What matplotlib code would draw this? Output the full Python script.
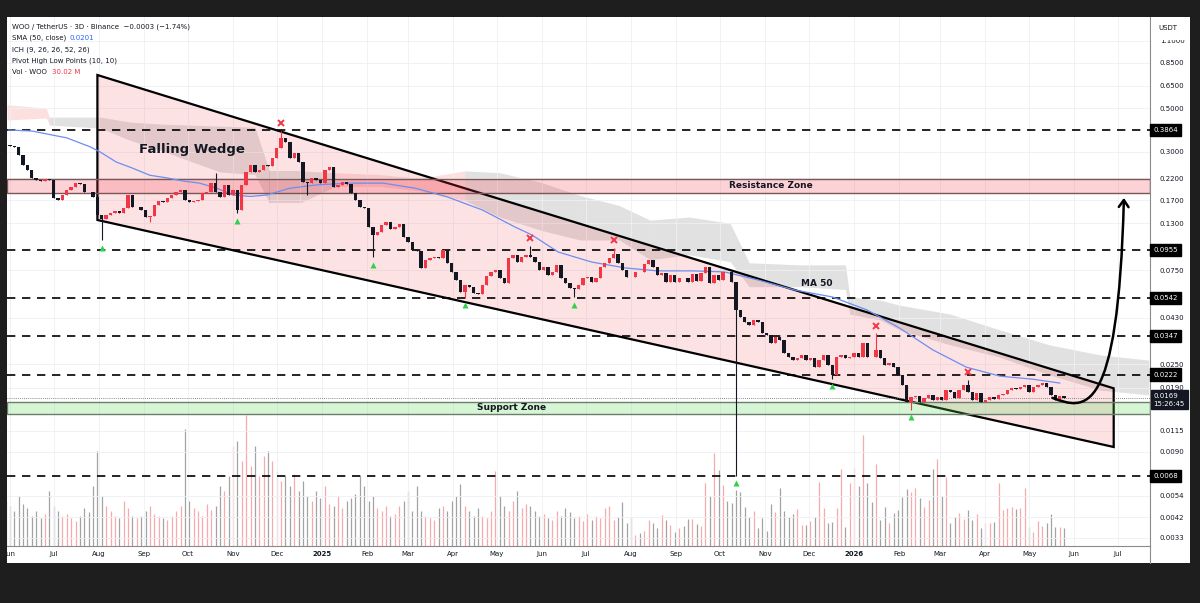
import matplotlib
matplotlib.use('Agg')
import matplotlib.pyplot as plt
import matplotlib.dates as mdates
import numpy as np
import pandas as pd
from matplotlib.patches import Polygon, Rectangle, FancyArrowPatch
from matplotlib.path import Path
from matplotlib.lines import Line2D
from matplotlib.transforms import offset_copy, blended_transform_factory

# ---- data (WOO/USDT, 3D candles) ----
first_open = 0.330
closes = [
    0.325, 0.321, 0.318, 0.289, 0.257, 0.243, 0.221, 0.216, 0.214, 0.218, 0.216, 0.175, 0.171, 0.181, 0.192, 0.199,
    0.208, 0.206, 0.188, 0.187, 0.177, 0.143,
    0.137, 0.143, 0.147, 0.150, 0.147, 0.156, 0.181, 0.157, 0.157, 0.152, 0.140, 0.142,
    0.161, 0.169, 0.167, 0.175, 0.181, 0.188, 0.192, 0.171, 0.167, 0.169, 0.171, 0.185, 0.187, 0.208, 0.188, 0.177,
    0.204, 0.181, 0.192, 0.152, 0.204, 0.237,
    0.257, 0.237, 0.243, 0.257, 0.255, 0.279, 0.314, 0.3525, 0.336, 0.279, 0.296, 0.266, 0.211, 0.209, 0.221, 0.216,
    0.208, 0.243, 0.251, 0.199, 0.204, 0.211, 0.206, 0.185, 0.171, 0.157, 0.155, 0.125, 0.1135, 0.1175, 0.1275, 0.132,
    0.122, 0.125, 0.129, 0.111, 0.1045, 0.0952, 0.0945, 0.0772,
    0.0847, 0.0867, 0.0877, 0.0872, 0.0952, 0.0818, 0.0737, 0.0671, 0.0583, 0.0633, 0.0618, 0.0576, 0.0572, 0.0633,
    0.0703, 0.0737, 0.0754, 0.0687, 0.0648, 0.0867, 0.0898, 0.0827, 0.0877, 0.0898, 0.0877, 0.0827, 0.0754, 0.0781,
    0.0711, 0.0737,
    0.0799, 0.0687, 0.0648, 0.0611, 0.0607, 0.0633, 0.0687, 0.0695, 0.0656, 0.0687, 0.0781, 0.0818, 0.0867, 0.0908,
    0.0818, 0.0754, 0.0695, 0.0693, 0.0737, 0.0735, 0.0808, 0.0847, 0.0781, 0.0711, 0.0728, 0.0656, 0.0711, 0.0656,
    0.0687, 0.0684,
    0.0656, 0.0720, 0.0663, 0.0728, 0.0781, 0.0648, 0.0711, 0.0671, 0.0737, 0.0735, 0.0656, 0.0472, 0.0435, 0.0410,
    0.0396, 0.0420, 0.0410, 0.0361, 0.0353, 0.0321, 0.0344, 0.0332, 0.0286, 0.0272, 0.0263, 0.0269, 0.0279, 0.0263,
    0.0269, 0.0242,
    0.0263, 0.0279, 0.0248, 0.0221, 0.0272, 0.0279, 0.0269, 0.0272, 0.0286, 0.0272, 0.0321, 0.0272, 0.0271, 0.0296,
    0.0269, 0.0248, 0.0254, 0.0242, 0.0221, 0.0196, 0.0161, 0.0171, 0.0172, 0.0161, 0.0169, 0.0175, 0.0165, 0.0171,
    0.0165, 0.0185,
    0.0181, 0.0169, 0.0185, 0.0196, 0.0181, 0.0165, 0.0179, 0.0161, 0.0165, 0.0171, 0.0167, 0.0175, 0.0176, 0.0185,
    0.0189, 0.0187, 0.0192, 0.0196, 0.0181, 0.0192, 0.0196, 0.0201, 0.0192, 0.0175, 0.0165, 0.0172, 0.0169,
]
# volume in millions
volumes = [
    75, 67, 58, 83, 70, 63, 50, 58, 47, 53, 92, 67, 58, 50, 53, 47, 42, 50, 63, 57,
    100, 158, 83, 67, 58, 50, 47, 75, 63, 50, 47, 50, 58, 67, 53, 50, 47, 43, 50, 58,
    67, 194, 75, 63, 58, 50, 70, 60, 67, 100, 92, 117, 167, 175, 142, 218, 133, 167, 117, 150,
    158, 142, 125, 108, 117, 100, 120, 92, 108, 83, 75, 92, 80, 100, 70, 67, 83, 63, 75, 80,
    87, 117, 100, 75, 83, 63, 58, 67, 50, 53, 67, 75, 92, 58, 100, 58, 50, 47, 43, 63,
    67, 58, 75, 83, 103, 67, 58, 50, 63, 50, 47, 58, 125, 83, 67, 58, 75, 92, 63, 70,
    67, 58, 50, 53, 47, 43, 58, 50, 63, 57, 47, 50, 42, 53, 43, 50, 47,
    63, 67, 43, 48, 73, 38, 48, 18, 22, 25, 43, 38, 30, 52, 43, 35, 23, 30, 33, 45,
    45, 37, 33, 105, 83, 155, 127, 102, 75, 72, 93, 90, 65, 48, 58, 30, 47, 25, 70, 57,
    97, 58, 48, 53, 62, 35, 35, 42, 48, 107, 63, 38, 40, 63, 128, 32, 105, 130, 100, 185,
    105, 73, 137, 43, 65, 38, 55, 60, 82, 95, 90, 97, 80, 65, 77, 128, 145, 83, 115, 38,
    48, 55, 45, 60, 43, 53, 30, 38, 38, 40, 105, 60, 63, 65, 62, 63, 97, 32, 23, 42,
    33, 38, 53, 32, 32, 30.02,
]
hi_idx = [48, 63, 120, 139, 199, 220]
hi_val = [0.234, 0.382, 0.100, 0.0975, 0.036, 0.0208]
lo_idx = [22, 33, 53, 69, 84, 105, 130, 167, 189, 207]
lo_val = [0.107, 0.132, 0.146, 0.181, 0.0877, 0.0545, 0.0547, 0.0068, 0.0212, 0.0147]
pivot_low_idx = [22, 53, 84, 105, 130, 167, 189, 207]
pivot_high_idx = [63, 120, 139, 199, 220]

sma_dates = ['2024-05-31', '2024-06-16', '2024-07-10', '2024-07-26', '2024-08-02', '2024-08-13', '2024-08-24',
             '2024-09-05', '2024-09-17', '2024-09-28', '2024-10-09', '2024-10-21', '2024-11-01', '2024-11-13',
             '2024-11-24', '2024-12-10', '2024-12-29', '2025-01-20', '2025-02-12', '2025-03-06', '2025-03-28',
             '2025-04-21', '2025-05-13', '2025-05-25', '2025-06-12', '2025-07-05', '2025-07-28', '2025-08-19',
             '2025-09-12', '2025-10-04', '2025-10-27', '2025-11-21', '2025-12-17', '2026-01-10', '2026-02-01',
             '2026-02-24', '2026-03-19', '2026-04-11', '2026-05-04', '2026-05-22']
sma_vals = [0.387, 0.3825, 0.353, 0.318, 0.299, 0.266, 0.248, 0.228, 0.221, 0.213, 0.208, 0.196, 0.181, 0.178,
            0.181, 0.196, 0.204, 0.208, 0.208, 0.196, 0.177, 0.152, 0.125, 0.1135, 0.0930, 0.0827, 0.0772, 0.0746,
            0.0746, 0.0737, 0.0671, 0.0597, 0.0550, 0.0472, 0.0383, 0.0296, 0.0242, 0.0218, 0.0210, 0.0201]

cloud_dates = ['2024-05-30', '2024-06-26', '2024-06-28', '2024-08-02', '2024-08-22', '2024-09-12', '2024-10-02',
               '2024-10-23', '2024-11-16', '2024-11-26', '2024-12-17', '2025-01-10', '2025-02-10', '2025-03-09',
               '2025-04-09', '2025-05-03', '2025-05-31', '2025-06-27', '2025-07-24', '2025-08-14', '2025-09-10',
               '2025-10-08', '2025-10-21', '2025-11-25', '2025-12-26', '2025-12-29', '2026-01-19', '2026-02-01',
               '2026-03-08', '2026-04-11', '2026-05-15', '2026-06-19', '2026-07-22']
cloud_hi = [0.52, 0.50, 0.45, 0.45, 0.425, 0.415, 0.41, 0.405, 0.40, 0.24, 0.24, 0.235, 0.23, 0.22, 0.24, 0.235,
            0.21, 0.18, 0.16, 0.135, 0.14, 0.13, 0.082, 0.080, 0.080, 0.055, 0.053, 0.050, 0.045, 0.0374, 0.0314,
            0.0279, 0.0263]
cloud_lo = [0.435, 0.445, 0.41, 0.396, 0.344, 0.306, 0.27, 0.237, 0.23, 0.165, 0.165, 0.20, 0.20, 0.19, 0.17, 0.14,
            0.12, 0.107, 0.107, 0.085, 0.09, 0.083, 0.062, 0.062, 0.060, 0.045, 0.042, 0.0374, 0.0314, 0.0272,
            0.0221, 0.0185, 0.0175]
cloud_bull = [1, 1, 0, 0, 0, 0, 0, 0, 0, 0, 0, 1, 1, 1, 0, 0, 0, 0, 0, 0, 0, 0, 0, 0, 0, 0, 0, 0, 0, 0, 0, 0, 0]

levels = [0.3864, 0.0955, 0.0542, 0.0347, 0.0222, 0.0068]
resistance = (0.1853, 0.2183)
support = (0.0140, 0.0161)
last_price = 0.0169

wedge_dates = ['2024-07-31', '2026-06-28']
wedge_top = [0.736, 0.0189]
wedge_bot = [0.1352, 0.00952]

arrow_dates = ['2026-05-17', '2026-06-08', '2026-07-01', '2026-07-05']
arrow_prices = [0.0169, 0.0147, 0.0130, 0.175]

price_ticks = [1.1, 0.85, 0.65, 0.5, 0.3, 0.22, 0.17, 0.13, 0.075, 0.043, 0.025, 0.019, 0.0115, 0.009,
               0.0054, 0.0042, 0.0033]

# ---- figure ----
W, H = 1200, 603
fig = plt.figure(figsize=(12, 6.03), dpi=100)
fig.patch.set_facecolor('#1e1e1e')


def fx(x):
    return x / W


def fy(y):
    return 1 - y / H


fig.add_artist(Rectangle((fx(7), fy(563)), fx(1190) - fx(7), fy(17) - fy(563), transform=fig.transFigure,
                         facecolor='white', edgecolor='none', zorder=0))

ax = fig.add_axes([fx(7), fy(546), fx(1150) - fx(7), fy(17) - fy(546)])
ax.set_yscale('log')
ax.patch.set_alpha(0)

dates = pd.date_range('2024-05-29', periods=len(closes), freq='3D')
xd = mdates.date2num(dates)
opens = [first_open] + closes[:-1]
highs = [max(o, c) for o, c in zip(opens, closes)]
lows = [min(o, c) for o, c in zip(opens, closes)]
for i, v in zip(hi_idx, hi_val):
    highs[i] = v
for i, v in zip(lo_idx, lo_val):
    lows[i] = v
up = [c >= o for o, c in zip(opens, closes)]
col = ['#f23645' if u else '#131722' for u in up]

# volume (bottom overlay)
vcol = ['#f7a9ad' if u else '#a3a3a3' for u in up]
ax.vlines(xd, 0, np.array(volumes) / 880.0, transform=ax.get_xaxis_transform(), colors=vcol, lw=0.9, zorder=1)

# ichimoku cloud
cx = mdates.date2num(pd.to_datetime(cloud_dates))
for i in range(len(cx) - 1):
    c = (0.95, 0.45, 0.45, 0.22) if cloud_bull[i] else (0.55, 0.55, 0.55, 0.26)
    ax.fill_between(cx[i:i + 2], cloud_lo[i:i + 2], cloud_hi[i:i + 2], color=c, lw=0, zorder=1)

# falling wedge
wx = mdates.date2num(pd.to_datetime(wedge_dates))
ax.add_patch(Polygon([(wx[0], wedge_top[0]), (wx[1], wedge_top[1]), (wx[1], wedge_bot[1]), (wx[0], wedge_bot[0])],
                     closed=True, facecolor=(0.95, 0.21, 0.27, 0.14), edgecolor='black', lw=1.6, zorder=2))

# zones
ax.axhspan(*resistance, facecolor=(0.95, 0.21, 0.27, 0.22), edgecolor='#7a5656', lw=1.0, zorder=3)
ax.axhspan(*support, facecolor=(0.35, 0.85, 0.35, 0.25), edgecolor='#6b7d6b', lw=1.0, zorder=3)

# horizontal levels
for v in levels:
    ax.axhline(v, color='black', lw=1.2, dashes=(5, 4), zorder=3)
ax.axhline(last_price, color='#666666', lw=0.6, ls=(0, (1, 1.5)), zorder=3)

# SMA 50
ax.plot(mdates.date2num(pd.to_datetime(sma_dates)), sma_vals, color='#6c8ef0', lw=0.9, zorder=4)

# candles
ax.vlines(xd, lows, highs, colors=col, lw=0.8, zorder=5)
ax.bar(xd, [abs(c - o) for o, c in zip(opens, closes)], bottom=[min(o, c) for o, c in zip(opens, closes)],
       width=2.3, color=col, lw=0, zorder=6)

# pivot markers
tr_lo = offset_copy(ax.transData, fig=fig, y=-5.5, units='points')
tr_hi = offset_copy(ax.transData, fig=fig, y=5.5, units='points')
ax.plot([xd[i] for i in pivot_low_idx], [lows[i] for i in pivot_low_idx], ls='none', marker='^', ms=5,
        color='#2fd14b', mec='none', transform=tr_lo, zorder=7)
ax.plot([xd[i] for i in pivot_high_idx], [highs[i] for i in pivot_high_idx], ls='none', marker='x', ms=4,
        mew=1.4, color='#f23645', transform=tr_hi, zorder=7)

# projected move arrow
ad = mdates.date2num(pd.to_datetime(arrow_dates))
path = Path(list(zip(ad, arrow_prices)), [Path.MOVETO, Path.CURVE4, Path.CURVE4, Path.CURVE4])
ax.add_patch(FancyArrowPatch(path=path, arrowstyle='->,head_length=5,head_width=3.5', color='black', lw=1.8,
                             mutation_scale=1, zorder=8))

# axes & ticks
x0 = mdates.date2num(pd.Timestamp('2025-01-01'))
ax.set_xlim(x0 - 216.0, x0 + 567.9)
ax.set_ylim(0.002993, 1.45)
ax.yaxis.tick_right()
ax.set_yticks(price_ticks)
ax.set_yticklabels(['%.4f' % t for t in price_ticks])
ax.yaxis.set_minor_locator(matplotlib.ticker.NullLocator())
ax.tick_params(axis='y', length=0, pad=7, labelsize=5, labelcolor='#131722')

months = pd.date_range('2024-06-01', '2026-07-01', freq='MS')
ax.set_xticks(mdates.date2num(months))
ax.set_xticklabels([str(d.year) if d.month == 1 else d.strftime('%b') for d in months])
for lab, d in zip(ax.get_xticklabels(), months):
    if d.month == 1:
        lab.set_fontweight('bold')
ax.tick_params(axis='x', length=0, pad=3.5, labelsize=5, labelcolor='#131722')
ax.grid(True, color='#eef0f4', lw=0.6, zorder=0)
for s in ['top', 'left']:
    ax.spines[s].set_visible(False)
ax.spines['bottom'].set_color('#8a8a8a')
ax.spines['right'].set_color('#8a8a8a')
ax.spines['bottom'].set_linewidth(0.8)
ax.spines['right'].set_linewidth(0.8)
fig.add_artist(Line2D([fx(1150), fx(1150)], [fy(546), fy(563)], transform=fig.transFigure, color='#8a8a8a', lw=0.8))

# price labels on the axis
bt = blended_transform_factory(ax.transAxes, ax.transData)
for v in levels:
    ax.text(1.003, v, '%.4f' % v, transform=bt, fontsize=5, color='white', va='center', ha='left',
            bbox=dict(boxstyle='square,pad=0.45', fc='black', ec='black'), zorder=10, clip_on=False)
ax.annotate('%.4f\n15:26:45' % last_price, xy=(1.0, last_price), xycoords=bt, xytext=(2.5, 3.5),
            textcoords='offset points', va='top', ha='left', fontsize=5, color='white', linespacing=1.3,
            bbox=dict(boxstyle='square,pad=0.4', fc='#131722', ec='#131722'), zorder=10, annotation_clip=False)

fig.add_artist(Rectangle((fx(1151), fy(40)), fx(1190) - fx(1151), fy(17) - fy(40), transform=fig.transFigure,
                         facecolor='white', edgecolor='none', zorder=20))
fig.text(fx(1168), fy(28), 'USDT', fontsize=5, color='#131722', ha='center', va='center', zorder=21)

# annotations
fig.text(fx(192), fy(150), 'Falling Wedge', fontsize=9.5, fontweight='bold', color='#131722', ha='center', va='center')
fig.text(fx(817), fy(283), 'MA 50', fontsize=6.5, fontweight='bold', color='#131722', ha='center', va='center')
fig.text(fx(771), fy(186), 'Resistance Zone', fontsize=6.5, fontweight='bold', color='#131722', ha='center', va='center')
fig.text(fx(512), fy(408), 'Support Zone', fontsize=6.5, fontweight='bold', color='#131722', ha='center', va='center')

# legend
lc = '#131722'
fig.text(fx(12), fy(27), 'WOO / TetherUS · 3D · Binance  \u22120.0003 (\u22121.74%)', fontsize=5, color=lc, va='center')
fig.text(fx(12), fy(38), 'SMA (50, close)', fontsize=5, color=lc, va='center')
fig.text(fx(70), fy(38), '0.0201', fontsize=5, color='#2962ff', va='center')
fig.text(fx(12), fy(50), 'ICH (9, 26, 26, 52, 26)', fontsize=5, color=lc, va='center')
fig.text(fx(12), fy(61), 'Pivot High Low Points (10, 10)', fontsize=5, color=lc, va='center')
fig.text(fx(12), fy(72), 'Vol · WOO', fontsize=5, color=lc, va='center')
fig.text(fx(52), fy(72), '30.02 M', fontsize=5, color='#f23645', va='center')

fig.savefig('out.png', dpi=100, facecolor=fig.get_facecolor())
